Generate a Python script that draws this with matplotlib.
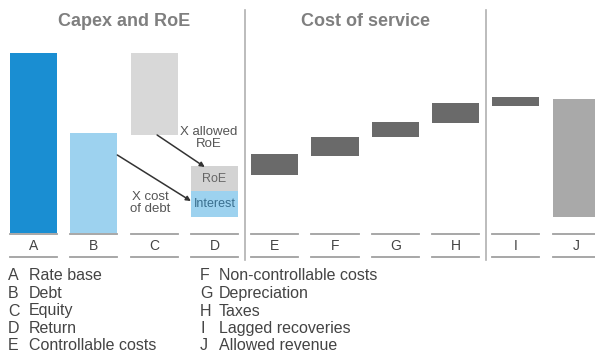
import numpy as np
import matplotlib
matplotlib.use("Agg")
import matplotlib.pyplot as plt

plt.rcParams['font.family'] = ['Liberation Sans', 'DejaVu Sans']

# --- дані (умовні одиниці) ---
letters = ['A', 'B', 'C', 'D', 'E', 'F', 'G', 'H', 'I', 'J']
bottoms = [0, 0, 98, 16, 58, 77, 96, 110, 127, 16]
heights = [180, 100, 82, 26, 21, 19, 15, 20, 9, 118]
roe_bottom = 42
roe_height = 25
colors = ['#1a8ed2', '#9dd2ef', '#d8d8d8', '#9dd2ef', '#6a6a6a', '#6a6a6a',
          '#6a6a6a', '#6a6a6a', '#6a6a6a', '#a9a9a9']
legend_left = ['Rate base', 'Debt', 'Equity', 'Return', 'Controllable costs']
legend_right = ['Non-controllable costs', 'Depreciation', 'Taxes',
                'Lagged recoveries', 'Allowed revenue']
section_titles = ['Capex and RoE', 'Cost of service']

W, H = 595, 358
fig = plt.figure(figsize=(W / 100, H / 100), dpi=100)

# вісь: категорія i -> центр 33.5 + 60.3*i px, значення v -> 233 - v px
step = 60.3
x0 = -33.5 / step
x1 = (W - 33.5) / step
ax_bottom = (H - 233) / H
ax_top = (H - 40) / H
ax = fig.add_axes([0, ax_bottom, 1, ax_top - ax_bottom])
ax.set_xlim(x0, x1)
ax.set_ylim(0, 193)
ax.axis('off')

x = np.arange(len(letters))
bw = 0.78
ax.bar(x, heights, bottom=bottoms, width=bw, color=colors, linewidth=0)
ax.bar(x[3], roe_height, bottom=roe_bottom, width=bw, color='#d3d3d3', linewidth=0)

# підписи всередині D
ax.text(x[3], roe_bottom + roe_height / 2, 'RoE', ha='center', va='center',
        fontsize=9, color='#666666')
ax.text(x[3], bottoms[3] + heights[3] / 2, 'Interest', ha='center', va='center',
        fontsize=9, color='#3a6f8f')

# стрілки
ax.annotate('', xy=(x[3] - 0.16, 66), xytext=(x[2] + 0.05, 98),
            arrowprops=dict(arrowstyle='-|>', color='#333333', lw=1.1,
                            mutation_scale=7, shrinkA=0, shrinkB=0))
ax.annotate('', xy=(x[3] - bw / 2, 32), xytext=(x[1] + bw / 2, 78),
            arrowprops=dict(arrowstyle='-|>', color='#333333', lw=1.1,
                            mutation_scale=7, shrinkA=0, shrinkB=0))
ax.text(x[3] - 0.1, 95, 'X allowed\nRoE', ha='center', va='center',
        fontsize=9.5, color='#555555', linespacing=1.0)
ax.text(x[2] - 0.07, 30, 'X cost\nof debt', ha='center', va='center',
        fontsize=9.5, color='#555555', linespacing=1.0)

# роздільники секцій
for xs in [3.5, 7.5]:
    ax.plot([xs, xs], [-27, 223], color='#b0b0b0', lw=1.2, clip_on=False)

# заголовки секцій
ax.text(1.5, 211, section_titles[0], ha='center', va='center', fontsize=13,
        fontweight='bold', color='#7f7f7f', clip_on=False)
ax.text(5.5, 211, section_titles[1], ha='center', va='center', fontsize=13,
        fontweight='bold', color='#7f7f7f', clip_on=False)

# «осі» під кожною категорією
for i, lab in enumerate(letters):
    for yy in [-1, -24]:
        ax.plot([i - bw / 2, i + bw / 2], [yy, yy], color='#a0a0a0', lw=1.3,
                clip_on=False)
    ax.text(i, -13, lab, ha='center', va='center', fontsize=10,
            color='#444444', clip_on=False)

# легенда внизу
for k, s in enumerate(legend_left):
    yy = 1 - (276 + 17.5 * k) / H
    fig.text(8 / W, yy, letters[k], ha='left', va='center', fontsize=11.5, color='#444444')
    fig.text(29 / W, yy, s, ha='left', va='center', fontsize=11.5, color='#444444')
for k, s in enumerate(legend_right):
    yy = 1 - (276 + 17.5 * k) / H
    fig.text(200 / W, yy, letters[k + 5], ha='left', va='center', fontsize=11.5, color='#444444')
    fig.text(219 / W, yy, s, ha='left', va='center', fontsize=11.5, color='#444444')

fig.savefig('out.png', dpi=100, facecolor='white')
